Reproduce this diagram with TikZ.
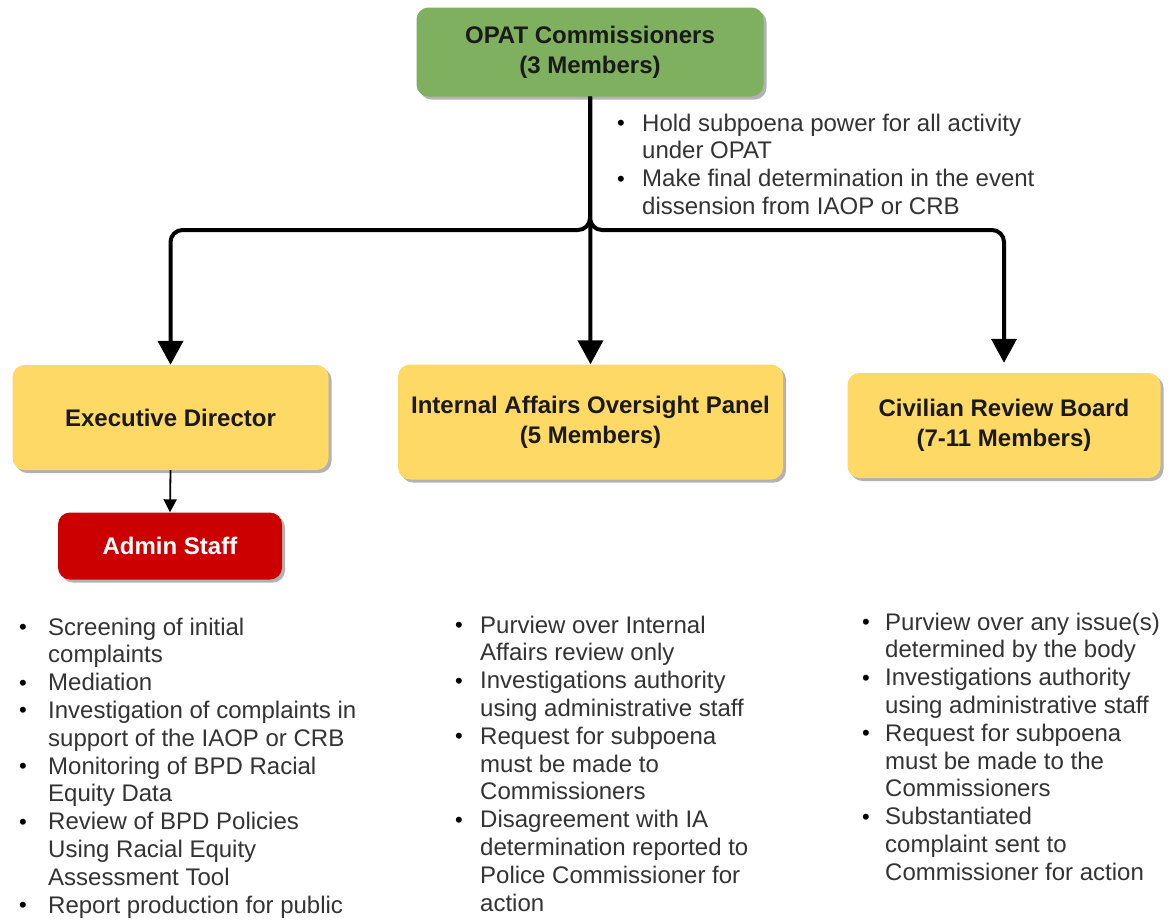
\documentclass[tikz,border=0pt]{standalone}
\usepackage{fontspec}
\setmainfont{Liberation Sans}
\usetikzlibrary{arrows.meta,shadows}
\definecolor{opatgreen}{HTML}{7FB05F}
\definecolor{boxyellow}{HTML}{FFD966}
\definecolor{adminred}{HTML}{CC0000}
\definecolor{bodygray}{HTML}{333333}
\definecolor{labeldark}{HTML}{1A1A1A}
\newcommand{\bpt}{\raisebox{0.5pt}{\color{black}\fontsize{22}{22}\selectfont\textbullet}}
\begin{document}
\begin{tikzpicture}[x=1pt,y=-1pt,
  box/.style={rounded corners=12pt, draw=none, inner sep=0pt, align=center,
    drop shadow={shadow xshift=3pt,shadow yshift=-3pt,opacity=0.3,fill=black},
    font=\fontsize{24}{30}\selectfont\bfseries, text=labeldark},
  bul/.style={inner sep=0pt, anchor=base west, text=bodygray,
    font=\fontsize{24}{27.8}\selectfont},
  conn/.style={line width=4pt, rounded corners=12pt, -{Triangle[width=25pt,length=24pt]}},
  thin/.style={line width=1.8pt, -{Triangle[width=13pt,length=13pt]}}]
\useasboundingbox[fill=white] (0,0) rectangle (1172,919);

\node[box, fill=opatgreen, minimum width=347pt, minimum height=89pt] (opat) at (590,52)
  {OPAT Commissioners\\(3 Members)};
\node[box, fill=boxyellow, minimum width=316pt, minimum height=105pt] (ed) at (170.5,417.5)
  {Executive Director};
\node[box, fill=boxyellow, minimum width=385pt, minimum height=115pt] (iaop) at (590.5,422)
  {Internal Affairs Oversight Panel\\(5 Members)};
\node[box, fill=boxyellow, minimum width=313pt, minimum height=105pt] (crb) at (1004,425.5)
  {Civilian Review Board\\(7-11 Members)};
\node[box, fill=adminred, text=white, minimum width=224pt, minimum height=67pt] (admin) at (170,546)
  {Admin Staff};

\coordinate (jn) at (590,230);
\draw[conn] (opat.south) -- (jn) -| (ed.north);
\draw[conn] (opat.south) -- (iaop.north);
\draw[conn, shorten >=10pt] (opat.south) -- (jn) -| (crb.north);
\draw[thin] (ed.south) -- (admin.north);

\node[bul] (toplist) at (617,131) {\begin{tabular}[t]{@{}p{25pt}@{}l@{}}
\bpt & Hold subpoena power for all activity\\
 & under OPAT\\
\bpt & Make final determination in the event\\
 & dissension from IAOP or CRB
\end{tabular}};

\node[bul] (edlist) at (19,635) {\begin{tabular}[t]{@{}p{29pt}@{}l@{}}
\bpt & Screening of initial\\
 & complaints\\
\bpt & Mediation\\
\bpt & Investigation of complaints in\\
 & support of the IAOP or CRB\\
\bpt & Monitoring of BPD Racial\\
 & Equity Data\\
\bpt & Review of BPD Policies\\
 & Using Racial Equity\\
 & Assessment Tool\\
\bpt & Report production for public
\end{tabular}};

\node[bul] (iaoplist) at (455,633) {\begin{tabular}[t]{@{}p{25pt}@{}l@{}}
\bpt & Purview over Internal\\
 & Affairs review only\\
\bpt & Investigations authority\\
 & using administrative staff\\
\bpt & Request for subpoena\\
 & must be made to\\
 & Commissioners\\
\bpt & Disagreement with IA\\
 & determination reported to\\
 & Police Commissioner for\\
 & action
\end{tabular}};

\node[bul] (crblist) at (862,630) {\begin{tabular}[t]{@{}p{23pt}@{}l@{}}
\bpt & Purview over any issue(s)\\
 & determined by the body\\
\bpt & Investigations authority\\
 & using administrative staff\\
\bpt & Request for subpoena\\
 & must be made to the\\
 & Commissioners\\
\bpt & Substantiated\\
 & complaint sent to\\
 & Commissioner for action
\end{tabular}};
\end{tikzpicture}
\end{document}
